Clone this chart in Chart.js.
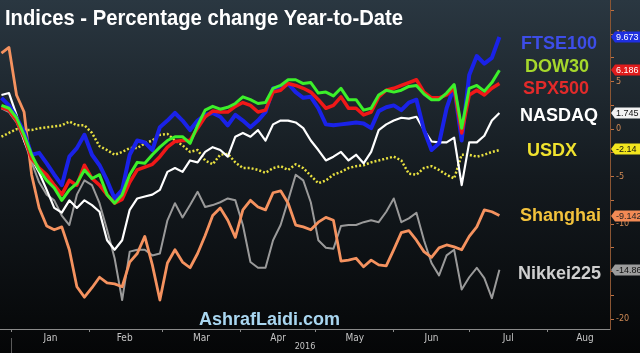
<!DOCTYPE html>
<html>
<head>
<meta charset="utf-8">
<script src="https://cdn.jsdelivr.net/npm/chart.js@4.4.1/dist/chart.umd.min.js"></script>
<style>
  html, body { margin: 0; padding: 0; background: #07090b; }
</style>
</head>
<body>
<canvas id="idxChart" width="640" height="353"></canvas>
<script>
// Dias desde 1 jan 2016 (eixo x)
const days = [-4, -1, 2, 5, 8, 11, 14, 17, 20, 23, 26, 29, 32, 35, 38, 41, 44, 47, 50, 53,
  56, 59, 62, 65, 68, 71, 74, 77, 80, 83, 86, 89, 92, 95, 98, 101, 104, 107, 110, 113,
  116, 119, 122, 125, 128, 131, 134, 137, 140, 143, 146, 149, 152, 155, 158, 161, 164, 167, 170, 173,
  176, 179, 182, 185, 188, 191, 194];

// Variação % no ano
const ftse = [3.3, 2.5, 1.2, -0.3, -2.7, -2.5, -3.6, -4.8, -5.9, -2.9, -2.0, -0.6, -2.7, -3.8, -5.4, -7.3, -6.4, -2.7, -1.2, -1.4,
  -2.2, 0.2, 0.9, 1.7, 0.9, -0.1, 0.9, 1.5, 1.7, 1.3, 0.4, 1.5, 0.9, 0.2, 0.9, 1.8, 4.3, 4.4, 4.8, 3.9,
  3.3, 3.4, 2.2, 0.5, 0.4, 0.5, 0.6, 0.7, 0.6, 0.1, 1.9, 2.3, 2.5, 2.0, 2.8, 3.1, -0.1, -2.2, -1.5, 2.2,
  4.5, -1.2, 5.7, 7.7, 6.9, 7.5, 9.7];
const dow = [2.5, 2.2, 1.2, -0.6, -2.7, -4.3, -5.4, -6.2, -7.5, -6.4, -5.7, -4.3, -5.2, -4.8, -6.9, -7.8, -6.9, -4.8, -3.5, -3.6,
  -2.7, -1.9, -1.2, -0.8, -0.8, -1.5, 0.4, 2.0, 2.4, 2.1, 2.3, 2.7, 3.4, 3.1, 2.7, 2.8, 4.3, 4.6, 5.2, 5.2,
  4.8, 4.9, 3.8, 3.9, 3.5, 4.3, 3.1, 3.1, 2.0, 2.2, 3.6, 4.1, 3.9, 4.1, 4.5, 4.6, 3.7, 3.1, 3.1, 3.8,
  4.7, 0.1, 4.3, 4.6, 4.0, 4.9, 6.2];
const spx = [2.3, 2.0, 0.9, -0.8, -3.1, -4.1, -4.8, -5.9, -6.9, -5.4, -5.9, -3.8, -5.2, -5.9, -6.9, -7.8, -7.4, -5.6, -4.3, -4.0,
  -3.7, -2.9, -1.9, -1.3, -1.2, -1.2, 0.1, 1.3, 1.9, 1.8, 1.8, 2.4, 2.8, 2.5, 1.8, 2.0, 3.9, 4.1, 4.8, 4.6,
  4.3, 3.9, 3.1, 2.2, 2.5, 3.4, 2.2, 2.2, 1.5, 1.8, 3.4, 4.1, 4.3, 4.6, 4.9, 5.2, 3.9, 3.3, 3.3, 3.6,
  4.3, -0.4, 3.6, 4.1, 3.6, 4.3, 4.8];
const nasdaq = [3.6, 3.8, 1.5, -1.2, -3.1, -4.6, -6.4, -8.3, -8.8, -7.5, -8.3, -7.5, -8.0, -8.7, -11.7, -12.7, -11.7, -8.5, -7.3, -7.1,
  -6.9, -6.4, -4.5, -4.1, -4.5, -3.3, -3.5, -2.4, -1.9, -2.2, -2.9, -0.8, -0.4, -0.8, -0.1, -1.2, 0.5, 0.9, 0.9, 0.7,
  0.1, -1.2, -2.2, -3.3, -2.9, -2.4, -3.3, -2.7, -3.6, -2.4, -0.1, 0.5, 0.9, 1.2, 1.1, 1.3, -0.1, -1.3, -1.4, -1.4,
  -0.9, -5.9, -1.4, -1.4, -0.7, 0.9, 1.7];
const usdx = [-0.8, -0.4, 0.0, -0.1, -0.1, 0.1, 0.2, 0.3, 0.4, 0.8, 0.4, 0.4, -0.4, -1.8, -2.2, -2.7, -2.4, -2.0, -2.0, -1.5,
  -1.2, -0.6, -0.5, -1.2, -1.7, -2.4, -2.2, -3.3, -3.7, -2.7, -2.6, -3.5, -4.1, -4.1, -4.3, -4.6, -4.1, -3.9, -4.3, -3.7,
  -4.1, -4.9, -5.7, -5.4, -4.8, -4.5, -4.1, -3.9, -3.8, -3.5, -3.3, -3.1, -2.9, -3.3, -4.7, -4.8, -4.1, -3.9, -4.3, -4.8,
  -5.2, -2.7, -2.7, -2.9, -2.7, -2.4, -2.2];
const shanghai = [8.0, 8.6, 3.6, 1.8, -4.8, -8.3, -10.2, -10.6, -10.3, -12.7, -16.6, -17.7, -16.7, -15.6, -16.2, -16.3, -16.6, -14.0, -13.1, -11.3,
  -14.3, -18.0, -14.1, -12.7, -14.0, -14.6, -13.1, -11.2, -9.1, -8.3, -9.6, -11.4, -8.5, -7.5, -8.2, -8.5, -6.7, -6.5, -7.8, -10.1,
  -10.3, -10.6, -9.8, -9.3, -9.6, -13.9, -13.8, -13.6, -14.5, -13.8, -14.3, -14.4, -12.7, -10.9, -10.7, -11.7, -12.9, -13.5, -12.5, -12.2,
  -12.4, -12.7, -11.3, -10.3, -8.5, -8.7, -9.1];
const nikkei = [2.2, 1.8, 0.7, -1.2, -3.5, -5.6, -6.9, -7.5, -9.1, -10.1, -6.9, -5.4, -5.9, -7.8, -10.6, -13.6, -18.0, -12.9, -12.7, -12.7,
  -13.3, -13.1, -9.6, -7.8, -9.3, -8.0, -6.6, -8.2, -8.0, -7.7, -7.3, -7.5, -10.1, -14.0, -14.6, -14.6, -11.7, -10.1, -7.5, -4.8,
  -5.4, -7.7, -11.7, -12.5, -12.6, -10.2, -10.1, -10.1, -9.8, -9.6, -9.8, -8.7, -7.3, -9.8, -9.4, -8.8, -11.7, -14.1, -15.4, -13.3,
  -12.7, -16.9, -15.6, -14.6, -15.7, -17.8, -14.8];

// Etiquetas do eixo direito (último valor)
const tagValues = [9.673, 6.186, 1.745, -2.14, -9.142, -14.86];
const tagTexts = ['9.673', '6.186', '1.745', '-2.14', '-9.142', '-14.86'];

// Eixos
const yTicks = [-20, -17.5, -15, -12.5, -10, -7.5, -5, -2.5, 0, 2.5, 5, 7.5, 10, 12.5];
const monthStarts = [0, 31, 60, 91, 121, 152, 182, 213];
const monthMids = [15.5, 45, 75.5, 106, 136.5, 167, 197.5, 228];
const monthNames = ['Jan', 'Feb', 'Mar', 'Apr', 'May', 'Jun', 'Jul', 'Aug'];
const seriesNames = ['FTSE100', 'DOW30', 'SPX500', 'NASDAQ', 'USDX', 'Shanghai', 'Nikkei225'];

// Estilo (posições dos nomes à direita, cores)
const nameLayout = [
  { x: 521, y: 49, color: '#3d4de8' },
  { x: 525, y: 72, color: '#a6d82c' },
  { x: 523, y: 94, color: '#e22a2a' },
  { x: 520, y: 121, color: '#ffffff' },
  { x: 527, y: 156, color: '#f0e22e' },
  { x: 520, y: 221, color: '#f2c23c' },
  { x: 518, y: 279, color: '#cfcfcf' }
];
const tagStyle = [
  { bg: '#1f2fe0', fg: '#ffffff' },
  { bg: '#e01c1c', fg: '#ffffff' },
  { bg: '#f2f2f2', fg: '#111111' },
  { bg: '#f2e51e', fg: '#111111' },
  { bg: '#f28a55', fg: '#222222' },
  { bg: '#9c9c9c', fg: '#111111' }
];

const pts = vals => days.map((d, i) => ({ x: d, y: vals[i] }));
const line = (label, vals, color, width, dash) => ({
  label: label,
  data: pts(vals),
  borderColor: color,
  borderWidth: width,
  borderDash: dash || [],
  pointRadius: 0,
  tension: 0,
  borderJoinStyle: 'round',
  fill: false
});

const overlay = {
  id: 'overlay',
  beforeDraw(chart) {
    const { ctx, width, height } = chart;
    const g = ctx.createLinearGradient(0, 0, 0, height);
    g.addColorStop(0, '#2a3741');
    g.addColorStop(0.5, '#141a1f');
    g.addColorStop(1, '#050607');
    ctx.save();
    ctx.fillStyle = g;
    ctx.fillRect(0, 0, width, height);
    ctx.restore();
  },
  afterDraw(chart) {
    const { ctx } = chart;
    const ys = chart.scales.y, xs = chart.scales.x;
    ctx.save();
    ctx.textBaseline = 'alphabetic';
    ctx.textAlign = 'left';

    // título (fonte condensada: comprime na horizontal até ~398px)
    const title = 'Indices - Percentage change Year-to-Date';
    ctx.font = 'bold 22px "Liberation Sans", Arial, sans-serif';
    ctx.fillStyle = '#ffffff';
    const tw = ctx.measureText(title).width;
    ctx.save();
    ctx.translate(5, 25);
    ctx.scale(398 / tw, 1);
    ctx.fillText(title, 0, 0);
    ctx.restore();

    // marca d'água
    ctx.font = 'bold 18px "Liberation Sans", Arial, sans-serif';
    ctx.fillStyle = '#a9d6f0';
    ctx.fillText('AshrafLaidi.com', 199, 325);

    // nomes das séries
    ctx.font = 'bold 18px "Liberation Sans", Arial, sans-serif';
    seriesNames.forEach((n, i) => {
      ctx.fillStyle = nameLayout[i].color;
      ctx.fillText(n, nameLayout[i].x, nameLayout[i].y);
    });

    // etiquetas de valor no eixo direito
    ctx.font = '9px "Liberation Sans", Arial, sans-serif';
    ctx.textBaseline = 'middle';
    tagValues.forEach((v, i) => {
      const py = Math.round(ys.getPixelForValue(v));
      ctx.fillStyle = tagStyle[i].bg;
      ctx.beginPath();
      ctx.moveTo(611, py);
      ctx.lineTo(615, py - 5.5);
      ctx.lineTo(640, py - 5.5);
      ctx.lineTo(640, py + 5.5);
      ctx.lineTo(615, py + 5.5);
      ctx.closePath();
      ctx.fill();
      ctx.fillStyle = tagStyle[i].fg;
      ctx.fillText(tagTexts[i], 616, py + 0.5);
    });

    // separador do ano
    const px = Math.round(xs.getPixelForValue(0)) + 0.5;
    ctx.strokeStyle = '#5a5a5a';
    ctx.lineWidth = 1;
    ctx.beginPath();
    ctx.moveTo(px, 338);
    ctx.lineTo(px, 353);
    ctx.stroke();
    ctx.restore();
  }
};

new Chart(document.getElementById('idxChart'), {
  type: 'line',
  data: {
    datasets: [
      line(seriesNames[1], dow, '#3cf02a', 3),
      line(seriesNames[2], spx, '#f01818', 3.5),
      line(seriesNames[0], ftse, '#1a22e8', 4),
      line(seriesNames[3], nasdaq, '#ffffff', 2.2),
      line(seriesNames[4], usdx, '#e8e040', 2.5, [2, 2]),
      line(seriesNames[5], shanghai, '#f5925f', 2.8),
      line(seriesNames[6], nikkei, '#9a9a9a', 2)
    ]
  },
  options: {
    responsive: false,
    animation: false,
    devicePixelRatio: 1,
    layout: { padding: 0 },
    plugins: {
      legend: { display: false },
      tooltip: { enabled: false }
    },
    scales: {
      x: {
        type: 'linear',
        min: -4.57,
        max: 237.97,
        afterFit: s => { s.height = 24; s.paddingLeft = 0; s.paddingRight = 0; },
        afterBuildTicks: s => {
          s.ticks = monthStarts.concat(monthMids).sort((a, b) => a - b).map(v => ({ value: v }));
        },
        border: { display: true, color: '#8a8a8a', width: 1 },
        grid: {
          drawOnChartArea: false,
          drawTicks: true,
          tickLength: 3,
          tickColor: c => monthStarts.includes(c.tick && c.tick.value) ? '#8a8a8a' : 'rgba(0,0,0,0)'
        },
        ticks: {
          autoSkip: false,
          maxRotation: 0,
          padding: 0,
          color: '#c4c4c4',
          font: { size: 10, family: '"Liberation Sans Narrow", "DejaVu Sans Condensed", sans-serif' },
          callback: v => {
            const i = monthMids.indexOf(v);
            return i >= 0 ? monthNames[i] : '';
          }
        },
        title: {
          display: true,
          text: '2016',
          color: '#c4c4c4',
          font: { size: 9, family: '"Liberation Sans Narrow", "DejaVu Sans Condensed", sans-serif' },
          padding: { top: 0, bottom: 1 }
        }
      },
      y: {
        position: 'right',
        min: -21.05,
        max: 13.6,
        afterFit: s => { s.width = 30; s.paddingTop = 0; s.paddingBottom = 0; },
        afterBuildTicks: s => { s.ticks = yTicks.map(v => ({ value: v })); },
        border: { display: true, color: '#8a5533', width: 1 },
        grid: { drawOnChartArea: false, drawTicks: true, tickLength: 4, color: '#c07040' },
        ticks: {
          color: '#d08a55',
          padding: 2,
          font: { size: 9, family: '"Liberation Sans Narrow", "DejaVu Sans Condensed", sans-serif' },
          callback: v => (v % 5 === 0 ? String(v) : '')
        }
      }
    }
  },
  plugins: [overlay]
});
</script>
</body>
</html>
